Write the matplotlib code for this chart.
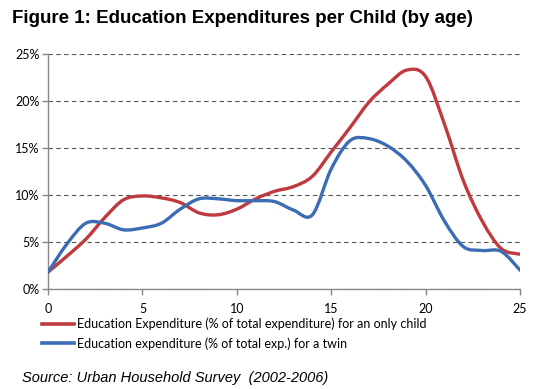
import numpy as np
import matplotlib.pyplot as plt
from matplotlib.path import Path
from matplotlib.patches import PathPatch
from matplotlib.lines import Line2D
from matplotlib.ticker import FuncFormatter

# ages and shares of total expenditure (%)
age = list(range(26))
only_child = [1.8, 3.5, 5.3, 7.6, 9.5, 9.9, 9.7, 9.2, 8.1, 7.9, 8.5, 9.6, 10.4,
              10.9, 12.0, 14.6, 17.2, 19.9, 21.8, 23.3, 22.6, 17.5, 11.5, 7.2, 4.3, 3.7]
twin = [1.8, 4.8, 7.0, 7.0, 6.3, 6.5, 7.0, 8.5, 9.6, 9.6, 9.4, 9.4, 9.3,
        8.4, 7.9, 12.8, 15.8, 16.0, 15.2, 13.6, 11.0, 7.2, 4.5, 4.1, 4.0, 2.0]

label_red = 'Education Expenditure (% of total expenditure) for an only child'
label_blue = 'Education expenditure (% of total exp.) for a twin'
red = '#C0393E'
blue = '#3C6DB4'


def smooth_path(x, y):
    # Excel-like smoothed line: Catmull-Rom segments as cubic Beziers
    p = np.column_stack([x, y]).astype(float)
    verts = [p[0]]
    codes = [Path.MOVETO]
    n = len(p)
    for i in range(n - 1):
        p0 = p[max(i - 1, 0)]
        p1 = p[i]
        p2 = p[i + 1]
        p3 = p[min(i + 2, n - 1)]
        c1 = p1 + (p2 - p0) / 6
        c2 = p2 - (p3 - p1) / 6
        verts += [c1, c2, p2]
        codes += [Path.CURVE4] * 3
    return Path(verts, codes)


fig = plt.figure(figsize=(5.34, 3.89), dpi=100)
ax = fig.add_axes([0.09, 0.257, 0.884, 0.604])

for yv, col in [(only_child, red), (twin, blue)]:
    ax.add_patch(PathPatch(smooth_path(age, yv), facecolor='none', edgecolor=col,
                           lw=2.4, capstyle='round', joinstyle='round', zorder=3))

ax.set_xlim(0, 25)
ax.set_ylim(0, 25)
ax.set_xticks([0, 5, 10, 15, 20, 25])
ax.set_yticks([0, 5, 10, 15, 20, 25])
ax.yaxis.set_major_formatter(FuncFormatter(lambda v, p: '%d%%' % v))
ax.grid(axis='y', linestyle=(0, (4, 3)), color='#555555', lw=0.8)
ax.set_axisbelow(True)
for s in ['top', 'right']:
    ax.spines[s].set_visible(False)
for s in ['left', 'bottom']:
    ax.spines[s].set_color('#888888')
    ax.spines[s].set_linewidth(1.0)
ax.tick_params(axis='both', colors='#888888', labelcolor='black', labelsize=9,
               length=4, width=1)
ax.tick_params(axis='y', pad=2)
ax.tick_params(axis='x', pad=6)
for t in ax.get_xticklabels() + ax.get_yticklabels():
    t.set_fontfamily('Lato')

handles = [Line2D([], [], color=red, lw=2.6), Line2D([], [], color=blue, lw=2.6)]
fig.legend(handles, [label_red, label_blue], loc='upper left',
           bbox_to_anchor=(0.078, 0.183), frameon=False, handlelength=2.6,
           handletextpad=0.2, labelspacing=0.55, borderpad=0, borderaxespad=0,
           prop={'family': 'Lato', 'size': 9})

fig.text(0.022, 0.953, 'Figure 1: Education Expenditures per Child (by age)',
         fontsize=13.5, fontweight='bold', family='Liberation Sans', va='center')
fig.text(0.042, 0.028, 'Source: Urban Household Survey  (2002-2006)',
         fontsize=10.5, style='italic', family='Liberation Sans', va='center')

plt.savefig('out.png', dpi=100)
